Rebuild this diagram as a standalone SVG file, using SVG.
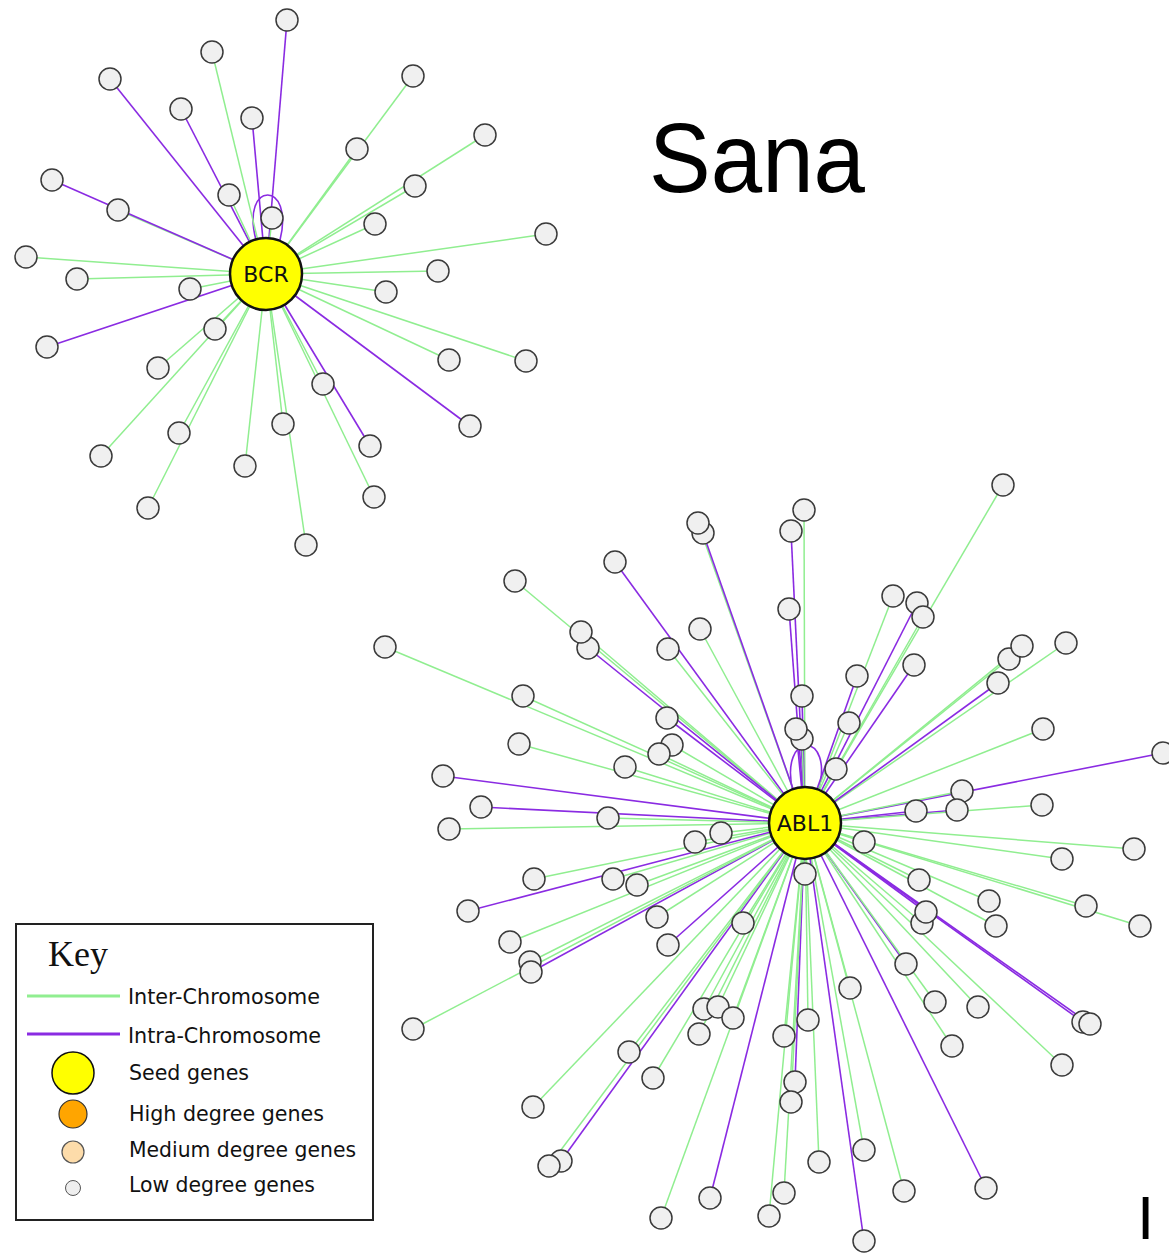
<svg xmlns="http://www.w3.org/2000/svg" width="1169" height="1253" viewBox="0 0 1169 1253">
<style>
.g{stroke:#90ee90;stroke-width:1.5;fill:none}
.p{stroke:#8a2be2;stroke-width:1.6;fill:none}
.n{fill:#f0f0f0;stroke:#3a3a3a;stroke-width:1.5}
.s{fill:#ffff00;stroke:#111;stroke-width:2.5}
.lbl{font-family:"DejaVu Sans",sans-serif;font-size:22px;fill:#111}
.key{font-family:"DejaVu Sans Condensed","DejaVu Sans",sans-serif;font-stretch:condensed;font-size:21px;fill:#111}
</style>
<rect width="1169" height="1253" fill="#fff"/>
<g id="edges">
<path class="p" d="M256 240C240 180 295 180 280 240"/>
<path class="p" d="M793 792C778 730 836 730 818 792"/>
<path class="p" d="M266 274L287 20"/><path class="g" d="M266 274L212 52"/><path class="p" d="M266 274L110 79"/><path class="p" d="M266 274L181 109"/><path class="p" d="M266 274L252 118"/><path class="g" d="M266 274L413 76"/><path class="g" d="M266 274L357 149"/><path class="g" d="M266 274L485 135"/><path class="g" d="M266 274L415 186"/><path class="g" d="M266 274L118 210"/><path class="p" d="M266 274L52 180"/><path class="g" d="M266 274L229 195"/><path class="g" d="M266 274L272 218"/><path class="g" d="M266 274L375 224"/><path class="g" d="M266 274L546 234"/><path class="g" d="M266 274L26 257"/><path class="g" d="M266 274L77 279"/><path class="g" d="M266 274L190 289"/><path class="g" d="M266 274L438 271"/><path class="g" d="M266 274L386 292"/><path class="p" d="M266 274L47 347"/><path class="g" d="M266 274L215 329"/><path class="g" d="M266 274L449 360"/><path class="g" d="M266 274L526 361"/><path class="g" d="M266 274L158 368"/><path class="g" d="M266 274L323 384"/><path class="p" d="M266 274L470 426"/><path class="g" d="M266 274L179 433"/><path class="g" d="M266 274L283 424"/><path class="p" d="M266 274L370 446"/><path class="g" d="M266 274L101 456"/><path class="g" d="M266 274L245 466"/><path class="g" d="M266 274L374 497"/><path class="g" d="M266 274L148 508"/><path class="g" d="M266 274L306 545"/>
<path class="g" d="M805 823L698 523"/><path class="p" d="M805 823L703 533"/><path class="g" d="M805 823L804 510"/><path class="p" d="M805 823L791 531"/><path class="p" d="M805 823L615 562"/><path class="g" d="M805 823L515 581"/><path class="p" d="M805 823L789 609"/><path class="g" d="M805 823L1003 485"/><path class="g" d="M805 823L893 596"/><path class="p" d="M805 823L917 603"/><path class="g" d="M805 823L923 617"/><path class="g" d="M805 823L385 647"/><path class="g" d="M805 823L581 632"/><path class="p" d="M805 823L588 648"/><path class="g" d="M805 823L700 629"/><path class="g" d="M805 823L668 649"/><path class="g" d="M805 823L1022 646"/><path class="g" d="M805 823L1009 659"/><path class="g" d="M805 823L1066 643"/><path class="p" d="M805 823L998 683"/><path class="p" d="M805 823L914 665"/><path class="p" d="M805 823L857 676"/><path class="g" d="M805 823L523 696"/><path class="p" d="M805 823L802 696"/><path class="g" d="M805 823L849 723"/><path class="p" d="M805 823L667 718"/><path class="g" d="M805 823L1043 729"/><path class="g" d="M805 823L519 744"/><path class="g" d="M805 823L672 745"/><path class="g" d="M805 823L659 754"/><path class="p" d="M805 823L796 729"/><path class="g" d="M805 823L802 739"/><path class="g" d="M805 823L625 767"/><path class="g" d="M805 823L836 769"/><path class="p" d="M805 823L1163 753"/><path class="p" d="M805 823L443 776"/><path class="g" d="M805 823L962 791"/><path class="p" d="M805 823L481 807"/><path class="g" d="M805 823L608 818"/><path class="p" d="M805 823L916 811"/><path class="p" d="M805 823L957 810"/><path class="g" d="M805 823L1042 805"/><path class="g" d="M805 823L449 829"/><path class="g" d="M805 823L721 833"/><path class="g" d="M805 823L695 842"/><path class="g" d="M805 823L864 842"/><path class="g" d="M805 823L1134 849"/><path class="g" d="M805 823L1062 859"/><path class="g" d="M805 823L805 874"/><path class="g" d="M805 823L534 879"/><path class="g" d="M805 823L613 879"/><path class="g" d="M805 823L637 885"/><path class="g" d="M805 823L919 880"/><path class="p" d="M805 823L468 911"/><path class="g" d="M805 823L657 917"/><path class="g" d="M805 823L743 923"/><path class="p" d="M805 823L926 912"/><path class="g" d="M805 823L922 923"/><path class="g" d="M805 823L989 901"/><path class="g" d="M805 823L996 926"/><path class="g" d="M805 823L1086 906"/><path class="g" d="M805 823L1140 926"/><path class="g" d="M805 823L510 942"/><path class="p" d="M805 823L668 945"/><path class="g" d="M805 823L530 962"/><path class="p" d="M805 823L531 972"/><path class="p" d="M805 823L906 964"/><path class="g" d="M805 823L850 988"/><path class="g" d="M805 823L935 1002"/><path class="g" d="M805 823L978 1007"/><path class="g" d="M805 823L704 1009"/><path class="g" d="M805 823L718 1007"/><path class="g" d="M805 823L733 1018"/><path class="g" d="M805 823L699 1034"/><path class="g" d="M805 823L808 1020"/><path class="g" d="M805 823L784 1036"/><path class="p" d="M805 823L1083 1022"/><path class="p" d="M805 823L1090 1024"/><path class="g" d="M805 823L952 1046"/><path class="g" d="M805 823L413 1029"/><path class="g" d="M805 823L629 1052"/><path class="g" d="M805 823L1062 1065"/><path class="g" d="M805 823L653 1078"/><path class="p" d="M805 823L795 1082"/><path class="g" d="M805 823L791 1102"/><path class="g" d="M805 823L533 1107"/><path class="g" d="M805 823L864 1150"/><path class="g" d="M805 823L819 1162"/><path class="p" d="M805 823L561 1161"/><path class="g" d="M805 823L549 1166"/><path class="g" d="M805 823L784 1193"/><path class="g" d="M805 823L769 1216"/><path class="p" d="M805 823L710 1198"/><path class="g" d="M805 823L661 1218"/><path class="g" d="M805 823L904 1191"/><path class="p" d="M805 823L986 1188"/><path class="p" d="M805 823L864 1241"/>
</g>
<g id="bcr-neighbours">
<g id="b1"><circle class="n" cx="287" cy="20" r="11"/></g><g id="b2"><circle class="n" cx="212" cy="52" r="11"/></g><g id="b3"><circle class="n" cx="110" cy="79" r="11"/></g><g id="b4"><circle class="n" cx="181" cy="109" r="11"/></g><g id="b5"><circle class="n" cx="252" cy="118" r="11"/></g><g id="b6"><circle class="n" cx="413" cy="76" r="11"/></g><g id="b7"><circle class="n" cx="357" cy="149" r="11"/></g><g id="b8"><circle class="n" cx="485" cy="135" r="11"/></g><g id="b9"><circle class="n" cx="415" cy="186" r="11"/></g><g id="b10"><circle class="n" cx="52" cy="180" r="11"/></g><g id="b11"><circle class="n" cx="118" cy="210" r="11"/></g><g id="b12"><circle class="n" cx="229" cy="195" r="11"/></g><g id="b13"><circle class="n" cx="272" cy="218" r="11"/></g><g id="b14"><circle class="n" cx="375" cy="224" r="11"/></g><g id="b15"><circle class="n" cx="546" cy="234" r="11"/></g><g id="b16"><circle class="n" cx="26" cy="257" r="11"/></g><g id="b17"><circle class="n" cx="77" cy="279" r="11"/></g><g id="b18"><circle class="n" cx="190" cy="289" r="11"/></g><g id="b19"><circle class="n" cx="438" cy="271" r="11"/></g><g id="b20"><circle class="n" cx="386" cy="292" r="11"/></g><g id="b21"><circle class="n" cx="47" cy="347" r="11"/></g><g id="b22"><circle class="n" cx="215" cy="329" r="11"/></g><g id="b23"><circle class="n" cx="449" cy="360" r="11"/></g><g id="b24"><circle class="n" cx="526" cy="361" r="11"/></g><g id="b25"><circle class="n" cx="158" cy="368" r="11"/></g><g id="b26"><circle class="n" cx="323" cy="384" r="11"/></g><g id="b27"><circle class="n" cx="470" cy="426" r="11"/></g><g id="b28"><circle class="n" cx="179" cy="433" r="11"/></g><g id="b29"><circle class="n" cx="283" cy="424" r="11"/></g><g id="b30"><circle class="n" cx="370" cy="446" r="11"/></g><g id="b31"><circle class="n" cx="101" cy="456" r="11"/></g><g id="b32"><circle class="n" cx="245" cy="466" r="11"/></g><g id="b33"><circle class="n" cx="374" cy="497" r="11"/></g><g id="b34"><circle class="n" cx="148" cy="508" r="11"/></g><g id="b35"><circle class="n" cx="306" cy="545" r="11"/></g>
</g>
<g id="abl1-neighbours">
<g id="a1"><circle class="n" cx="703" cy="533" r="11"/></g><g id="a2"><circle class="n" cx="698" cy="523" r="11"/></g><g id="a3"><circle class="n" cx="804" cy="510" r="11"/></g><g id="a4"><circle class="n" cx="791" cy="531" r="11"/></g><g id="a5"><circle class="n" cx="615" cy="562" r="11"/></g><g id="a6"><circle class="n" cx="515" cy="581" r="11"/></g><g id="a7"><circle class="n" cx="789" cy="609" r="11"/></g><g id="a8"><circle class="n" cx="1003" cy="485" r="11"/></g><g id="a9"><circle class="n" cx="893" cy="596" r="11"/></g><g id="a10"><circle class="n" cx="917" cy="603" r="11"/></g><g id="a11"><circle class="n" cx="923" cy="617" r="11"/></g><g id="a12"><circle class="n" cx="385" cy="647" r="11"/></g><g id="a13"><circle class="n" cx="588" cy="648" r="11"/></g><g id="a14"><circle class="n" cx="581" cy="632" r="11"/></g><g id="a15"><circle class="n" cx="700" cy="629" r="11"/></g><g id="a16"><circle class="n" cx="668" cy="649" r="11"/></g><g id="a17"><circle class="n" cx="1009" cy="659" r="11"/></g><g id="a18"><circle class="n" cx="1022" cy="646" r="11"/></g><g id="a19"><circle class="n" cx="1066" cy="643" r="11"/></g><g id="a20"><circle class="n" cx="998" cy="683" r="11"/></g><g id="a21"><circle class="n" cx="914" cy="665" r="11"/></g><g id="a22"><circle class="n" cx="857" cy="676" r="11"/></g><g id="a23"><circle class="n" cx="523" cy="696" r="11"/></g><g id="a24"><circle class="n" cx="802" cy="696" r="11"/></g><g id="a25"><circle class="n" cx="849" cy="723" r="11"/></g><g id="a26"><circle class="n" cx="667" cy="718" r="11"/></g><g id="a27"><circle class="n" cx="1043" cy="729" r="11"/></g><g id="a28"><circle class="n" cx="519" cy="744" r="11"/></g><g id="a29"><circle class="n" cx="672" cy="745" r="11"/></g><g id="a30"><circle class="n" cx="659" cy="754" r="11"/></g><g id="a31"><circle class="n" cx="802" cy="739" r="11"/></g><g id="a32"><circle class="n" cx="796" cy="729" r="11"/></g><g id="a33"><circle class="n" cx="625" cy="767" r="11"/></g><g id="a34"><circle class="n" cx="836" cy="769" r="11"/></g><g id="a35"><circle class="n" cx="1163" cy="753" r="11"/></g><g id="a36"><circle class="n" cx="443" cy="776" r="11"/></g><g id="a37"><circle class="n" cx="962" cy="791" r="11"/></g><g id="a38"><circle class="n" cx="481" cy="807" r="11"/></g><g id="a39"><circle class="n" cx="608" cy="818" r="11"/></g><g id="a40"><circle class="n" cx="916" cy="811" r="11"/></g><g id="a41"><circle class="n" cx="957" cy="810" r="11"/></g><g id="a42"><circle class="n" cx="1042" cy="805" r="11"/></g><g id="a43"><circle class="n" cx="449" cy="829" r="11"/></g><g id="a44"><circle class="n" cx="695" cy="842" r="11"/></g><g id="a45"><circle class="n" cx="721" cy="833" r="11"/></g><g id="a46"><circle class="n" cx="864" cy="842" r="11"/></g><g id="a47"><circle class="n" cx="1134" cy="849" r="11"/></g><g id="a48"><circle class="n" cx="1062" cy="859" r="11"/></g><g id="a49"><circle class="n" cx="805" cy="874" r="11"/></g><g id="a50"><circle class="n" cx="534" cy="879" r="11"/></g><g id="a51"><circle class="n" cx="613" cy="879" r="11"/></g><g id="a52"><circle class="n" cx="637" cy="885" r="11"/></g><g id="a53"><circle class="n" cx="919" cy="880" r="11"/></g><g id="a54"><circle class="n" cx="468" cy="911" r="11"/></g><g id="a55"><circle class="n" cx="657" cy="917" r="11"/></g><g id="a56"><circle class="n" cx="743" cy="923" r="11"/></g><g id="a57"><circle class="n" cx="922" cy="923" r="11"/></g><g id="a58"><circle class="n" cx="926" cy="912" r="11"/></g><g id="a59"><circle class="n" cx="989" cy="901" r="11"/></g><g id="a60"><circle class="n" cx="996" cy="926" r="11"/></g><g id="a61"><circle class="n" cx="1086" cy="906" r="11"/></g><g id="a62"><circle class="n" cx="1140" cy="926" r="11"/></g><g id="a63"><circle class="n" cx="510" cy="942" r="11"/></g><g id="a64"><circle class="n" cx="668" cy="945" r="11"/></g><g id="a65"><circle class="n" cx="530" cy="962" r="11"/></g><g id="a66"><circle class="n" cx="531" cy="972" r="11"/></g><g id="a67"><circle class="n" cx="906" cy="964" r="11"/></g><g id="a68"><circle class="n" cx="850" cy="988" r="11"/></g><g id="a69"><circle class="n" cx="935" cy="1002" r="11"/></g><g id="a70"><circle class="n" cx="978" cy="1007" r="11"/></g><g id="a71"><circle class="n" cx="704" cy="1009" r="11"/></g><g id="a72"><circle class="n" cx="718" cy="1007" r="11"/></g><g id="a73"><circle class="n" cx="733" cy="1018" r="11"/></g><g id="a74"><circle class="n" cx="699" cy="1034" r="11"/></g><g id="a75"><circle class="n" cx="808" cy="1020" r="11"/></g><g id="a76"><circle class="n" cx="784" cy="1036" r="11"/></g><g id="a77"><circle class="n" cx="1083" cy="1022" r="11"/></g><g id="a78"><circle class="n" cx="1090" cy="1024" r="11"/></g><g id="a79"><circle class="n" cx="952" cy="1046" r="11"/></g><g id="a80"><circle class="n" cx="413" cy="1029" r="11"/></g><g id="a81"><circle class="n" cx="629" cy="1052" r="11"/></g><g id="a82"><circle class="n" cx="1062" cy="1065" r="11"/></g><g id="a83"><circle class="n" cx="653" cy="1078" r="11"/></g><g id="a84"><circle class="n" cx="795" cy="1082" r="11"/></g><g id="a85"><circle class="n" cx="791" cy="1102" r="11"/></g><g id="a86"><circle class="n" cx="533" cy="1107" r="11"/></g><g id="a87"><circle class="n" cx="864" cy="1150" r="11"/></g><g id="a88"><circle class="n" cx="819" cy="1162" r="11"/></g><g id="a89"><circle class="n" cx="561" cy="1161" r="11"/></g><g id="a90"><circle class="n" cx="549" cy="1166" r="11"/></g><g id="a91"><circle class="n" cx="784" cy="1193" r="11"/></g><g id="a92"><circle class="n" cx="769" cy="1216" r="11"/></g><g id="a93"><circle class="n" cx="710" cy="1198" r="11"/></g><g id="a94"><circle class="n" cx="661" cy="1218" r="11"/></g><g id="a95"><circle class="n" cx="904" cy="1191" r="11"/></g><g id="a96"><circle class="n" cx="986" cy="1188" r="11"/></g><g id="a97"><circle class="n" cx="864" cy="1241" r="11"/></g>
</g>
<g id="BCR"><circle class="s" cx="266" cy="274" r="36"/><text class="lbl" x="266" y="282" text-anchor="middle">BCR</text></g>
<g id="ABL1"><circle class="s" cx="805" cy="823" r="36"/><text class="lbl" x="805" y="831" text-anchor="middle">ABL1</text></g>
<text x="649" y="192" font-family="Liberation Sans, sans-serif" font-size="98" textLength="216" lengthAdjust="spacingAndGlyphs" fill="#000">Sana</text>
<text x="1137" y="1239" font-family="Liberation Sans, sans-serif" font-size="62" fill="#000">I</text>
<g id="legend">
<rect x="16" y="924" width="357" height="296" fill="#fff" stroke="#222" stroke-width="2"/>
<text x="48" y="966" font-family="Liberation Serif, serif" font-size="36" fill="#111">Key</text>
<line x1="27" y1="996" x2="120" y2="996" stroke="#90ee90" stroke-width="3"/>
<line x1="27" y1="1034" x2="120" y2="1034" stroke="#8a2be2" stroke-width="3"/>
<circle cx="73" cy="1073" r="21" fill="#ffff00" stroke="#111" stroke-width="1.5"/>
<circle cx="73" cy="1114" r="14" fill="#ffa500" stroke="#333" stroke-width="1.2"/>
<circle cx="73" cy="1152" r="11" fill="#fddcaa" stroke="#555" stroke-width="1.2"/>
<circle cx="73" cy="1188" r="7.5" fill="#eeeeee" stroke="#555" stroke-width="1"/>
<text class="key" x="128" y="1004" textLength="192" lengthAdjust="spacingAndGlyphs">Inter-Chromosome</text>
<text class="key" x="128" y="1043" textLength="193" lengthAdjust="spacingAndGlyphs">Intra-Chromosome</text>
<text class="key" x="129" y="1080" textLength="120" lengthAdjust="spacingAndGlyphs">Seed genes</text>
<text class="key" x="129" y="1121" textLength="195" lengthAdjust="spacingAndGlyphs">High degree genes</text>
<text class="key" x="129" y="1157" textLength="227" lengthAdjust="spacingAndGlyphs">Medium degree genes</text>
<text class="key" x="129" y="1192" textLength="186" lengthAdjust="spacingAndGlyphs">Low degree genes</text>
</g>
</svg>
